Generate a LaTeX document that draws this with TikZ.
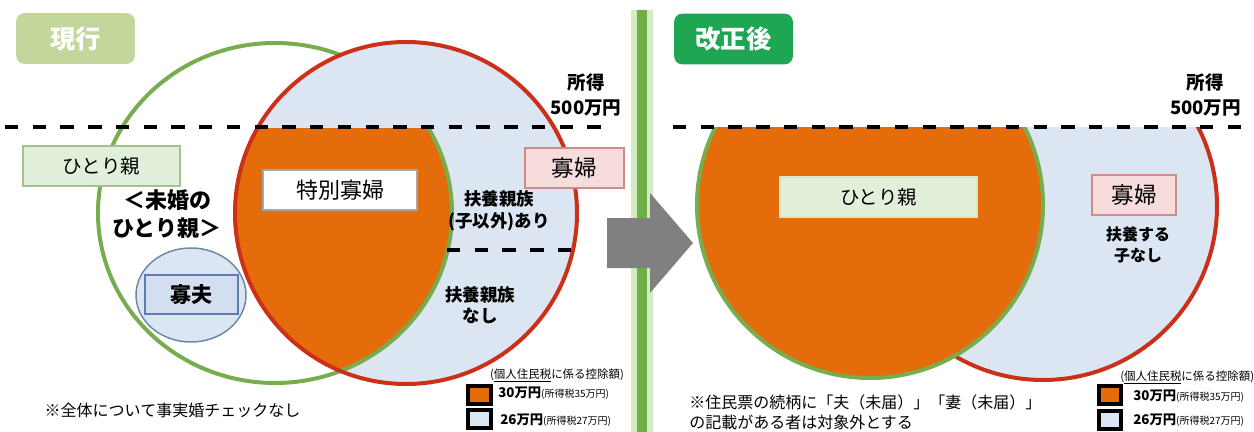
\documentclass[tikz,border=0pt]{standalone}
\usepackage{fontspec}
\setmainfont{Noto Sans CJK JP}
\definecolor{orng}{HTML}{E46C0A}
\definecolor{lblue}{HTML}{DCE6F2}
\definecolor{redl}{HTML}{CC3018}
\definecolor{grnl}{HTML}{77AD4E}
\definecolor{gboxfill}{HTML}{E2EFDA}
\definecolor{gboxline}{HTML}{A3C28D}
\definecolor{pboxfill}{HTML}{F6DCDC}
\definecolor{pboxline}{HTML}{D08A88}
\definecolor{widowline}{HTML}{6A88A8}
\definecolor{widowbox}{HTML}{D3DEEF}
\definecolor{widowboxline}{HTML}{5B7DB1}
\definecolor{oldtitle}{HTML}{C3D69B}
\definecolor{newtitle}{HTML}{1EA653}
\definecolor{barglow}{HTML}{D4EBC4}
\definecolor{bardark}{HTML}{6FAE45}
\definecolor{arrowgray}{HTML}{808080}
\begin{document}
\begin{tikzpicture}[x=0.75pt,y=-0.75pt,
  txt/.style={inner sep=0pt, align=center, text=black},
  titlebox/.style={rounded corners=6pt, inner sep=0pt, text=white,
    minimum width=89pt, minimum height=38pt, font=\fontsize{19}{22}\selectfont\bfseries},
  gbox/.style={draw=gboxline, fill=gboxfill, line width=0.8pt, inner sep=0pt},
  pbox/.style={draw=pboxline, fill=pboxfill, line width=0.8pt, inner sep=0pt,
    minimum height=30pt, font=\fontsize{16.9}{20}\selectfont},
  wbox/.style={draw=gray!70, fill=white, line width=0.8pt, inner sep=0pt},
  dashline/.style={line width=3pt, dash pattern=on 10pt off 10.8pt},
  legsq/.style={draw=black, line width=3pt, inner sep=0pt, minimum width=17pt, minimum height=13pt},
  circline/.style={line width=3pt},
]
\useasboundingbox (0,0) rectangle (1254,432);

% ---------- green divider bar ----------
\fill[barglow] (631,10) rectangle (653,432);
\fill[bardark] (637,10) rectangle (647,432);

% ---------- left Venn diagram ----------
\fill[lblue] (406,213) circle [radius=171];
\begin{scope}
  \clip (0,127) rectangle (630,432);
  \clip (275,213) ellipse [x radius=177, y radius=170];
  \fill[orng] (406,213) circle [radius=171];
\end{scope}
\draw[grnl, circline] (275,213) ellipse [x radius=177, y radius=170];
\begin{scope}
  \clip (0,0) rectangle (630,127);
  \fill[lblue] (406,213) circle [radius=171];
\end{scope}
\draw[redl, circline] (406,213) circle [radius=171];

% widower ellipse
\fill[lblue, draw=widowline, line width=1.1pt] (191,295) ellipse [x radius=55, y radius=47];

% dashed income lines
\coordinate (dLa) at (5,127);
\coordinate (dLb) at (604,127);
\coordinate (dMa) at (447,250);
\coordinate (dMb) at (574,250);
\draw[dashline] (dLa) -- (dMb |- dLa) -- (dLb);
\draw[dashline] (dMa) -- (dMb);

% ---------- right diagram ----------
\begin{scope}
  \clip (640,127) rectangle (1254,432);
  \fill[lblue] (1043,206) circle [radius=174];
  \draw[redl, circline] (1043,206) circle [radius=174];
  \fill[orng] (870,205) circle [radius=173];
  \draw[grnl, circline] (870,205) circle [radius=173];
\end{scope}
\coordinate (dRa) at (673,127);
\coordinate (dRb) at (1254,127);
\draw[dashline] (dRa) -- (dRb);

% ---------- arrow ----------
\fill[arrowgray] (607,218) -- (650,218) -- (650,193) -- (693,243) -- (650,293) -- (650,268) -- (607,268) -- cycle;

% ---------- titles ----------
\node[titlebox, fill=oldtitle] (tOld) at (75.5,38.5) {現行};
\node[titlebox, fill=newtitle] (tNew) at (733.5,39) {改正後};

% ---------- left labels ----------
\node[gbox, minimum width=117.75pt, minimum height=30pt, font=\fontsize{14.6}{17}\selectfont] (hitoriL) at (101.5,166) {ひとり親};
\node[txt, font=\fontsize{16.5}{21}\selectfont\bfseries] (mikon) at (167,214) {＜未婚の\\ひとり親＞};
\node[wbox, minimum width=115.5pt, minimum height=30pt, font=\fontsize{16.5}{20}\selectfont] (tokubetsu) at (340,190) {特別寡婦};
\node[pbox, minimum width=74.25pt] (kafuL) at (574.5,168) {寡婦};
\node[txt, font=\fontsize{13.9}{18.75}\selectfont\bfseries] (shotokuL) at (586,94.5) {所得\\500万円};
\node[txt, font=\fontsize{13.1}{16.5}\selectfont\bfseries] (fuyouA) at (499,211) {扶養親族\\(子以外)あり};
\node[txt, font=\fontsize{13.1}{15.5}\selectfont\bfseries] (fuyouN) at (480,305) {扶養親族\\なし};
\node[draw=widowboxline, fill=widowbox, line width=0.8pt, inner sep=0pt,
  minimum width=69.75pt, minimum height=29.25pt, font=\fontsize{15.8}{19}\selectfont\bfseries] (kafu) at (191.5,294.5) {寡夫};
\node[txt, font=\fontsize{12}{14}\selectfont] (noteL) at (172.5,410) {※全体について事実婚チェックなし};

% left legend
\node[txt, font=\fontsize{8.6}{10}\selectfont] (legHL) at (557,375) {(\underline{個人住民税}に係る控除額)};
\node[legsq, fill=orng] (sqOL) at (479.5,395) {};
\node[legsq, fill=lblue] (sqBL) at (479.5,419) {};
\node[txt, anchor=west] (legOL) at (498,393) {\fontsize{10}{12}\selectfont\bfseries 30万円\fontsize{7.5}{9}\selectfont\mdseries (所得税35万円)};
\node[txt, anchor=west] (legBL) at (500,420) {\fontsize{10}{12}\selectfont\bfseries 26万円\fontsize{7.5}{9}\selectfont\mdseries (所得税27万円)};

% ---------- right labels ----------
\node[gbox, draw=gboxfill!80!gboxline, minimum width=147.75pt, minimum height=30pt, font=\fontsize{14.5}{17}\selectfont] (hitoriR) at (878.5,197) {ひとり親};
\node[pbox, minimum width=63pt] (kafuR) at (1134,195) {寡婦};
\node[txt, font=\fontsize{12}{15.5}\selectfont\bfseries] (fuyouR) at (1138,245) {扶養する\\子なし};
\node[txt, font=\fontsize{13.9}{18.75}\selectfont\bfseries] (shotokuR) at (1205.5,94.5) {所得\\500万円};
\node[txt, anchor=west, align=left, font=\fontsize{12}{15}\selectfont] (noteR) at (689,412) {※住民票の続柄に「夫（未届）」「妻（未届）」\\の記載がある者は対象外とする};

% right legend
\node[txt, anchor=west, font=\fontsize{8.6}{10}\selectfont] (legHR) at (1120,377) {(\underline{個人住民税}に係る控除額)};
\node[legsq, fill=orng] (sqOR) at (1110,395) {};
\node[legsq, fill=lblue] (sqBR) at (1110,420) {};
\node[txt, anchor=west] (legOR) at (1133,396) {\fontsize{10}{12}\selectfont\bfseries 30万円\fontsize{7.5}{9}\selectfont\mdseries (所得税35万円)};
\node[txt, anchor=west] (legBR) at (1133,420) {\fontsize{10}{12}\selectfont\bfseries 26万円\fontsize{7.5}{9}\selectfont\mdseries (所得税27万円)};
\end{tikzpicture}
\end{document}
